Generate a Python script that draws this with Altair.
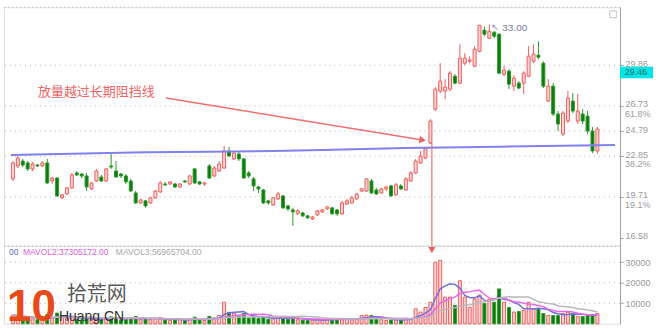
import altair as alt
import pandas as pd

# ---------------- data ----------------
opens = [
    21.10, 22.10, 22.48, 22.33, 21.87, 22.17, 22.10, 22.33, 20.94, 21.17,
    19.64, 19.94, 20.41, 21.56, 21.48, 21.33, 20.33, 20.94, 21.25, 20.94,
    22.10, 21.71, 21.48, 21.33, 20.94, 20.02, 19.25, 19.41, 19.25, 19.64,
    20.10, 20.71, 20.71, 20.71, 20.48, 20.94, 20.71, 21.87, 20.87, 20.71,
    22.10, 21.33, 21.71, 21.94, 23.25, 22.64, 23.02, 22.64, 21.56, 21.10,
    20.48, 20.25, 19.41, 19.10, 19.56, 19.79, 19.02, 18.71, 18.41, 18.48,
    18.25, 18.02, 18.33, 18.56, 18.79, 18.87, 18.71, 18.41, 19.17, 19.25,
    19.56, 20.17, 20.17, 20.94, 20.25, 20.02, 20.33, 20.56, 19.87, 20.56,
    20.25, 20.94, 21.56, 22.33, 22.71, 23.87, 26.48, 27.87, 27.87, 28.02,
    29.02, 28.48, 30.02, 30.17, 29.79, 30.94, 32.56, 31.94, 32.41, 32.25,
    29.17, 29.41, 28.25, 28.48, 28.48, 29.02, 30.17, 30.64, 30.02, 27.10,
    28.25, 26.10, 24.56, 25.56, 27.10, 25.56, 26.10, 25.94, 24.79, 23.25,
]
closes = [
    22.33, 22.71, 22.17, 21.87, 22.25, 22.10, 22.33, 20.79, 21.17, 19.79,
    19.87, 20.41, 21.41, 21.41, 21.33, 20.48, 20.79, 21.71, 20.94, 21.87,
    22.02, 21.25, 21.33, 20.87, 20.17, 19.25, 19.48, 19.02, 19.64, 20.17,
    20.79, 20.64, 20.87, 20.48, 20.71, 20.87, 21.33, 20.79, 20.71, 20.79,
    21.17, 21.94, 22.25, 23.25, 22.87, 23.10, 22.64, 21.17, 21.33, 20.56,
    20.33, 19.25, 19.25, 19.64, 19.94, 18.87, 18.79, 18.56, 18.64, 18.25,
    18.10, 18.17, 18.64, 18.71, 18.94, 18.41, 18.41, 19.25, 19.41, 19.64,
    19.94, 20.33, 21.10, 20.02, 19.94, 20.33, 20.48, 19.79, 20.64, 20.33,
    21.10, 21.56, 22.48, 22.87, 23.41, 25.56, 28.02, 28.64, 28.17, 29.25,
    28.48, 30.41, 30.41, 30.25, 31.10, 32.94, 32.25, 32.48, 32.10, 29.25,
    29.48, 28.40, 28.87, 28.10, 29.25, 30.56, 30.71, 30.48, 28.25, 28.25,
    26.10, 25.33, 26.17, 27.33, 26.33, 26.33, 25.56, 24.79, 23.25, 24.94,
]
highs = [
    22.48, 22.87, 22.64, 22.48, 22.40, 22.25, 22.48, 22.64, 21.25, 21.25,
    19.94, 20.48, 21.56, 21.71, 21.56, 21.56, 20.87, 21.87, 21.41, 21.94,
    23.02, 22.48, 21.56, 21.48, 21.10, 20.17, 19.56, 19.48, 19.71, 20.25,
    20.94, 20.87, 20.94, 20.79, 20.79, 21.02, 21.41, 21.94, 20.94, 20.87,
    22.25, 22.10, 22.48, 23.64, 23.56, 23.25, 23.25, 22.71, 21.71, 21.25,
    20.56, 20.33, 19.48, 19.71, 20.10, 19.87, 19.10, 18.87, 18.79, 18.56,
    18.33, 18.25, 18.71, 18.79, 19.02, 18.94, 18.79, 19.41, 19.56, 19.79,
    20.02, 20.41, 21.17, 21.10, 20.41, 20.41, 20.56, 20.64, 20.79, 20.71,
    21.25, 21.71, 22.64, 23.25, 23.56, 25.71, 28.17, 30.02, 28.79, 29.41,
    29.17, 31.48, 30.79, 30.56, 31.33, 32.96, 32.85, 33.00, 32.48, 32.33,
    29.79, 29.56, 29.10, 28.64, 29.41, 31.33, 31.48, 31.71, 30.17, 28.79,
    28.48, 26.33, 26.33, 27.87, 27.71, 27.64, 26.48, 26.33, 25.10, 25.10,
]
lows = [
    20.94, 21.94, 22.02, 21.71, 21.71, 22.02, 22.02, 20.71, 20.71, 19.71,
    19.56, 19.87, 20.33, 21.33, 21.17, 20.17, 20.25, 20.87, 20.87, 20.87,
    21.87, 21.17, 21.17, 20.71, 20.10, 19.17, 19.17, 18.87, 19.17, 19.56,
    20.02, 20.56, 20.64, 20.41, 20.41, 20.79, 20.64, 20.71, 20.64, 20.56,
    21.10, 21.25, 21.64, 21.87, 22.79, 22.56, 22.48, 21.10, 21.17, 20.17,
    20.02, 19.17, 19.10, 19.02, 19.48, 18.79, 18.64, 17.48, 18.33, 18.17,
    18.02, 17.94, 18.25, 18.48, 18.71, 18.33, 18.25, 18.33, 19.10, 19.17,
    19.48, 20.10, 20.10, 19.94, 19.87, 19.94, 20.17, 19.71, 19.79, 20.25,
    20.17, 20.87, 21.48, 22.25, 22.64, 23.79, 26.33, 27.71, 27.25, 27.87,
    28.40, 28.40, 29.87, 30.02, 29.71, 30.87, 32.10, 31.87, 31.94, 29.17,
    29.02, 28.02, 27.87, 28.02, 27.64, 28.94, 30.02, 30.33, 28.10, 27.02,
    25.94, 24.79, 24.41, 25.40, 26.17, 25.33, 25.33, 24.56, 23.10, 23.02,
]
volumes = [
    4200, 3800, 3000, 2600, 2400, 2000, 2200, 4500, 3000, 5200,
    3200, 2800, 3500, 2200, 1800, 3000, 2200, 2600, 2000, 2800,
    3400, 3000, 1800, 2200, 2800, 3600, 2000, 2400, 2000, 2600,
    3000, 1800, 1600, 1800, 2000, 1800, 2400, 3200, 1800, 1600,
    3600, 2800, 4000, 10500, 5600, 5200, 3600, 5000, 2800, 3200,
    2600, 3600, 2200, 2400, 2600, 3400, 2200, 3000, 2000, 1800,
    1600, 1800, 2000, 1800, 2000, 2200, 2400, 2600, 2200, 2000,
    2400, 4000, 4200, 4000, 2400, 2000, 1600, 1800, 1800, 2000,
    2600, 2400, 7300, 5700, 8000, 10500, 30000, 31000, 13000, 13000,
    9000, 21000, 13000, 8000, 12000, 14000, 10000, 12000, 10500, 17000,
    10500, 8000, 5700, 6000, 6500, 10500, 7300, 7300, 5000, 4000,
    4000, 4000, 5000, 5700, 5000, 3600, 3600, 4000, 4500, 5000,
]

# long-term moving average (blue line), read at a few candles
ma_idx = [-0.4, 17, 27, 40, 53, 63, 80, 99, 122.6]
ma_val = [22.94, 23.07, 23.16, 23.19, 23.25, 23.33, 23.48, 23.58, 23.72]

price_ticks = [29.86, 26.73, 24.79, 22.85, 19.71, 16.58]
grid_levels = [29.86, 26.73, 24.79, 22.85, 19.71]
pct_levels = [26.73, 22.85, 19.71]
pct_labels = ["61.8%", "38.2%", "19.1%"]
vol_ticks = [10000, 20000, 30000]

peak_idx = 97
peak_price = 33.00
cyan_price = 29.46
annotation = "放量越过长期阻挡线"
arrow_from = (31.2, 27.33)
arrow_to = (83.4, 24.10)
breakout = (85.3, 23.87)

hdr_texts = ["00", "MAVOL2:37305172.00", "MAVOL3:56965704.00"]

# ---------------- styling ----------------
RED = "#f25c5c"
RED_FILL = "#ffd6d6"
GREEN = "#2e9a2e"
GREEN_FILL = "#0b7a0b"
GRID = "#b5b5b5"
LABEL = "#9a9a9a"
FONT = "Liberation Sans"

W, H_MAIN, H_VOL = 617, 239, 78

df = pd.DataFrame(dict(i=list(range(len(opens))), open=opens, close=closes,
                       high=highs, low=lows, vol=volumes))

xs = alt.Scale(domain=[-0.8, 122.6], nice=False, zero=False)
ys = alt.Scale(domain=[15.94, 34.33], nice=False, zero=False)
vs = alt.Scale(domain=[0, 38000], nice=False, zero=False)

y_axis = alt.Axis(orient="right", values=price_ticks, format=".2f", grid=False,
                  tickSize=3, tickColor="#a0a0a0", domainColor="#a0a0a0",
                  labelColor=LABEL, labelFont=FONT, labelFontSize=9,
                  labelPadding=2, labelOffset=-2, title=None)
v_axis = alt.Axis(orient="right", values=vol_ticks, format="d", grid=False,
                  tickSize=3, tickColor="#a0a0a0", domainColor="#a0a0a0",
                  labelColor=LABEL, labelFont=FONT, labelFontSize=9,
                  labelPadding=2, title=None)


def X(f):
    return alt.X(f, type="quantitative", scale=xs, axis=None)


def Y(f):
    return alt.Y(f, type="quantitative", scale=ys, axis=y_axis)


def V(f):
    return alt.Y(f, type="quantitative", scale=vs, axis=v_axis)


UP = "datum.close >= datum.open"


def cond(a, b):
    return alt.condition(UP, alt.value(a), alt.value(b))


one = pd.DataFrame({"a": [0]})

# ---------------- main (price) panel ----------------
grid = alt.Chart(pd.DataFrame({"p": grid_levels})).mark_rule(
    strokeDash=[1, 4], color=GRID).encode(y=Y("p"))
top_border = alt.Chart(one).mark_rule(strokeDash=[1, 3], color=GRID).encode(y=alt.value(0))

wicks = alt.Chart(df).mark_rule(strokeWidth=1).encode(
    x=X("i"), y=Y("low"), y2="high", color=cond(RED, GREEN))
bodies = alt.Chart(df).mark_bar(size=3, strokeWidth=1).encode(
    x=X("i"), y=Y("open"), y2="close", fill=cond(RED_FILL, GREEN_FILL),
    stroke=cond(RED, GREEN))

ma_line = alt.Chart(pd.DataFrame({"i": ma_idx, "v": ma_val})).mark_line(
    color="#8080f0", strokeWidth=2).encode(x=X("i"), y=Y("v"))

note = alt.Chart(one).mark_text(align="left", baseline="middle", fontSize=13,
                                font="Noto Sans CJK SC", color="#f06464").encode(
    x=alt.value(34), y=alt.value(85), text=alt.value(annotation))

arrow_df = pd.DataFrame({"x": [arrow_from[0]], "y": [arrow_from[1]],
                         "x2": [arrow_to[0]], "y2": [arrow_to[1]]})
arrow = alt.Chart(arrow_df).mark_rule(color="#f07070", strokeWidth=1.5).encode(
    x=X("x"), y=Y("y"), x2="x2", y2="y2")
arrow_head = alt.Chart(arrow_df).mark_point(shape="triangle-right", filled=True,
                                            size=55, angle=9, color="#f06060",
                                            opacity=1).encode(x=X("x2"), y=Y("y2"))

bk_df = pd.DataFrame({"x": [breakout[0]], "y": [breakout[1]]})
vline = alt.Chart(bk_df).mark_rule(color="#f07070", strokeWidth=1.2).encode(
    x=X("x"), y=Y("y"), y2=alt.value(244))
vhead = alt.Chart(bk_df).mark_point(shape="triangle-down", filled=True, size=60,
                                    color="#f06060", opacity=1).encode(
    x=X("x"), y=alt.value(243))

peak_df = pd.DataFrame({"i": [peak_idx], "p": [peak_price]})
peak_lbl = alt.Chart(peak_df).mark_text(align="left", baseline="middle", dx=13, dy=4,
                                        fontSize=10, font=FONT, color="#7a7a9e").encode(
    x=X("i"), y=Y("p"), text=alt.Text("p:Q", format=".2f"))
peak_mark = alt.Chart(peak_df).mark_text(align="left", baseline="middle", dx=2, dy=3,
                                         fontSize=9, font="DejaVu Sans", color="#8a8ab0").encode(
    x=X("i"), y=Y("p"), text=alt.value("↖"))

pct = alt.Chart(pd.DataFrame({"p": pct_levels, "t": pct_labels})).mark_text(
    align="left", baseline="middle", dy=8, fontSize=9, font=FONT, color=LABEL).encode(
    x=alt.value(622), y=Y("p"), text="t")

cyan_df = pd.DataFrame({"p": [cyan_price]})
cyan_box = alt.Chart(cyan_df).transform_calculate(
    top="datum.p + 0.28", bot="datum.p - 0.6").mark_rect(fill="#00e6e6").encode(
    x=alt.value(617), x2=alt.value(650), y=Y("top:Q"), y2="bot:Q")
cyan_txt = alt.Chart(cyan_df).mark_text(align="center", baseline="middle", fontSize=9,
                                        dy=2, font=FONT, color="#1f6f6f").encode(
    x=alt.value(633), y=Y("p"), text=alt.Text("p:Q", format=".2f"))

corner = alt.Chart(one).mark_point(shape="square", size=45, filled=False,
                                   color="#b0b0b0", strokeWidth=1).encode(
    x=alt.value(610), y=alt.value(7))

main = alt.layer(grid, top_border, wicks, bodies, ma_line, note, arrow, arrow_head,
                 vline, vhead, peak_lbl, peak_mark, pct, cyan_box, cyan_txt,
                 corner).properties(width=W, height=H_MAIN)

# ---------------- volume panel ----------------
vgrid = alt.Chart(pd.DataFrame({"v": vol_ticks})).mark_rule(
    strokeDash=[1, 4], color=GRID).encode(y=V("v"))
vtop = alt.Chart(one).mark_rule(strokeDash=[1, 3], color=GRID).encode(y=alt.value(0))
vbars = alt.Chart(df).mark_bar(size=3, strokeWidth=1).encode(
    x=X("i"), y=V("vol"), fill=cond(RED_FILL, GREEN_FILL), stroke=cond(RED, GREEN))


def ma(n, color):
    return alt.Chart(df).transform_window(
        m="mean(vol)", frame=[-(n - 1), 0], sort=[alt.SortField("i")]
    ).mark_line(color=color, strokeWidth=1.5).encode(x=X("i"), y=V("m:Q"))


ma5 = ma(5, "#7070e6")
ma10 = ma(10, "#e868e8")
ma20 = ma(20, "#b8b8b8")

hdr_x = [5, 19, 112]
hdr_c = ["#6a6ae6", "#e060e0", "#a8a8a8"]
hdrs = [alt.Chart(one).mark_text(align="left", baseline="middle", fontSize=8.5,
                                 font=FONT, color=c).encode(
    x=alt.value(x), y=alt.value(6), text=alt.value(t))
    for t, x, c in zip(hdr_texts, hdr_x, hdr_c)]

wm1 = alt.Chart(one).mark_text(align="left", baseline="middle", fontSize=44,
                               fontWeight="bold", font=FONT, color="#e84a1a").encode(
    x=alt.value(3), y=alt.value(62), text=alt.value("10"))
wm2 = alt.Chart(one).mark_text(align="left", baseline="middle", fontSize=20,
                               font="Noto Sans CJK SC", color="#5a5a5a").encode(
    x=alt.value(63), y=alt.value(49), text=alt.value("拾荒网"))
wm3 = alt.Chart(one).mark_text(align="left", baseline="middle", fontSize=14,
                               font=FONT, color="#333333").encode(
    x=alt.value(55), y=alt.value(71), text=alt.value("Huang.CN"))

vol = alt.layer(vgrid, vtop, vbars, ma5, ma10, ma20, *hdrs, wm1, wm2, wm3).properties(
    width=W, height=H_VOL)

chart = alt.vconcat(main, vol, spacing=0, bounds="flush").properties(
    padding={"left": 3, "top": 6, "right": 4, "bottom": 4},
    background="white",
).configure_view(stroke=None).configure(font=FONT)

chart.save("out.html", embed_options={"renderer": "svg", "actions": False})
